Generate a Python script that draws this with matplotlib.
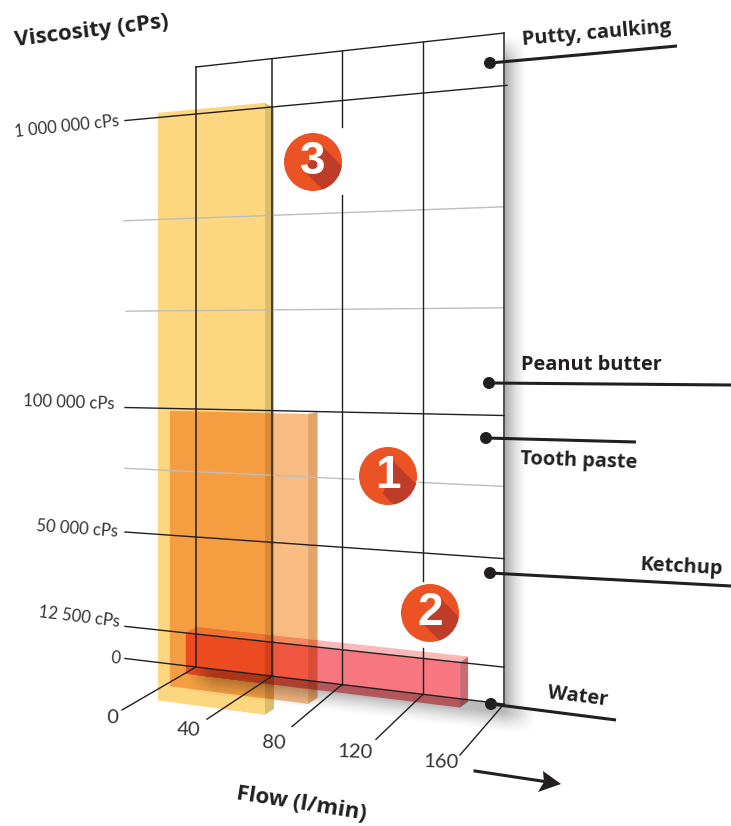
import matplotlib
matplotlib.use("Agg")
import matplotlib.pyplot as plt
from matplotlib.colors import to_rgb
from matplotlib.patches import Circle, Polygon
import numpy as np

# values
flow_ticks = [0, 40, 80, 120, 160]
visc_ticks = [0, 12500, 50000, 100000, 1000000]
visc_tick_labels = ['0', '12 500 cPs', '50 000 cPs', '100 000 cPs', '1 000 000 cPs']
visc_minor = [75000, 250000, 500000]

bar_flow_from = [-20, -13.7, -5.3]
bar_flow_to = [36.3, 60.6, 138.3]
bar_visc_top = [1050000, 99000, 12500]

materials = ['Putty, caulking', 'Peanut butter', 'Tooth paste', 'Ketchup', 'Water']
badge_numbers = ['3', '1', '2']

# scales of the drawing: flow -> pixel column, viscosity -> pixel row on the wall's left edge
FLOW_CAL = [-40, 0, 40, 80, 120, 160]
COL_CAL = [120, 196, 272, 342, 423, 504]
VISC_CAL = [0, 12500, 50000, 75000, 100000, 250000, 500000, 1000000, 1500000]
ROW_CAL = [667, 634, 537, 471.5, 409, 310, 217, 114, 67]
VAN_X, VAN_Y = -2407, 354  # vanishing point of the wall
DARK = '#231F20'
GRID_LEFT = 125
LABEL_FONT = 'Open Sans'


def col(flow):
    return np.interp(flow, FLOW_CAL, COL_CAL)


def row(visc):
    return np.interp(visc, VISC_CAL, ROW_CAL)


def y_at(ref_row, x):
    return VAN_Y + (ref_row - VAN_Y) * (x - VAN_X) / (196 - VAN_X)


def clip_poly(poly, clipper):
    # Sutherland-Hodgman, both convex, same winding not assumed
    area = sum(clipper[i][0] * clipper[(i + 1) % len(clipper)][1]
               - clipper[(i + 1) % len(clipper)][0] * clipper[i][1] for i in range(len(clipper)))
    sign = 1 if area > 0 else -1
    out = list(poly)
    for i in range(len(clipper)):
        a, b = clipper[i], clipper[(i + 1) % len(clipper)]
        side = lambda p: sign * ((b[0] - a[0]) * (p[1] - a[1]) - (b[1] - a[1]) * (p[0] - a[0]))
        cur, out = out, []
        for j in range(len(cur)):
            p, q = cur[j], cur[(j + 1) % len(cur)]
            sp, sq = side(p), side(q)
            if sp >= 0:
                out.append(p)
            if sp * sq < 0:
                t = sp / (sp - sq)
                out.append((p[0] + t * (q[0] - p[0]), p[1] + t * (q[1] - p[1])))
        if not out:
            return []
    return out


fig = plt.figure(figsize=(7.31, 8.26), dpi=100)
ax = fig.add_axes([0, 0, 1, 1])
ax.set_xlim(0, 731)
ax.set_ylim(826, 0)
ax.axis('off')

# bars: the three overlap in multiply mode, so every overlap is painted with its product colour
bar_foot = [705.5, 689.5, 675]
bar_side_dx = [9, 9.5, 8]
bar_side_top_dy = [5, -2, -6]
bar_colors = [('#FCD77F', '#DCBD6E'), ('#F8BB82', '#E3A36B'), ('#F67780', '#C96B72')]
bar_top_color = '#FAB8B8'

regions = []
for i in range(3):
    x0, x1 = col(bar_flow_from[i]), col(bar_flow_to[i])
    top = row(bar_visc_top[i])
    dx = bar_side_dx[i]
    y0t, y1t = y_at(top, x0), y_at(top, x1)
    y0b, y1b = y_at(bar_foot[i], x0), y_at(bar_foot[i], x1)
    front = [(x0, y0t), (x1, y1t), (x1, y1b), (x0, y0b)]
    side = [(x1, y1t), (x1 + dx, y1t + bar_side_top_dy[i]), (x1 + dx, y1b - 6), (x1, y1b)]
    faces = [(front, bar_colors[i][0]), (side, bar_colors[i][1])]
    if i == 2:
        faces.append(([(x0, y0t), (x0 + 10, y0t - 6), (x1 + dx, y1t - 6), (x1, y1t)], bar_top_color))
    for poly, color in faces:
        color = np.array(to_rgb(color))
        ax.add_patch(Polygon(poly, fc=color, ec='none', zorder=2))
        new_regions = [(poly, color)]
        for other, other_color in regions:
            part = clip_poly(poly, other)
            if len(part) > 2:
                mixed = color * other_color
                ax.add_patch(Polygon(part, fc=mixed, ec='none', zorder=2))
                new_regions.append((part, mixed))
        regions += new_regions

# soft shadows of the wall
yy, xx = np.mgrid[0:826, 0:731] + 0.5
right = np.clip(1 - (xx - 505) / 24, 0, 1) ** 1.6 * (xx >= 505) * np.clip((yy - 36) / 25, 0, 1)
right *= np.clip((722 - yy) / 16, 0, 1)
d = yy - y_at(667, xx)
floor = np.clip((29 - d) / 20, 0, 1) ** 1.4 * (d >= 0)
floor *= np.clip((xx - 188) / 25, 0, 1) * np.clip((535 - xx) / 30, 0, 1)
alpha = np.maximum(right * 0.33, floor * 0.27)
rgba = np.zeros(xx.shape + (4,))
rgba[..., 3] = alpha
ax.imshow(rgba, extent=(0, 731, 826, 0), zorder=3, aspect='auto', interpolation='bilinear')
ax.set_xlim(0, 731)
ax.set_ylim(826, 0)

# grid on the wall; the grey lines tilt a little less than the wall's perspective
minor_left = [125, 126, 124]
minor_tilt = [1, 3, 6]
for v, left, tilt in zip(visc_minor, minor_left, minor_tilt):
    r = row(v)
    spans = [(left, 354), (419, 503)] if v == 75000 else [(left, 503)]
    for a, b in spans:
        ya = y_at(r, a) + tilt * (a - 124) / 379
        yb = y_at(r, b) + tilt * (b - 124) / 379
        ax.plot([a, b], [ya, yb], color='#BDBDBD', lw=1.0, zorder=4)

for v in visc_ticks:
    r = row(v)
    end = 507 if v == 1000000 else 504
    ax.plot([GRID_LEFT, end], [y_at(r, GRID_LEFT), y_at(r, end)], color=DARK, lw=1.0, zorder=5)
top_row = row(1500000)
ax.plot([196, 504], [y_at(top_row, 196), y_at(top_row, 504)], color=DARK, lw=1.0, zorder=5)

col_gaps = {80: (127, 195), 120: (581, 648)}
for f in flow_ticks:
    x = col(f)
    y_top, y_bot = y_at(top_row, x), y_at(row(0), x)
    if f in col_gaps:
        ax.plot([x, x], [y_top, col_gaps[f][0]], color=DARK, lw=1.0, zorder=5)
        ax.plot([x, x], [col_gaps[f][1], y_bot], color=DARK, lw=1.0, zorder=5)
    else:
        ax.plot([x, x], [y_top, y_bot], color=DARK, lw=1.1, zorder=5)

# floor ticks and their labels
tick_dx = [-74, -65, -50, -47, -44]
tick_dy = [43, 43, 42, 45, 51]
tick_label_xy = [(112, 718), (189, 730), (274, 743), (355, 752), (441, 762)]
for f, dx, dy, xy in zip(flow_ticks, tick_dx, tick_dy, tick_label_xy):
    x, y = col(f), y_at(row(0), col(f))
    ax.plot([x, x + dx], [y, y + dy], color=DARK, lw=1.0, zorder=5)
    ax.text(xy[0], xy[1], str(f), family='Lato', fontsize=14.5, color='#333333',
            ha='center', va='center', rotation=-2, zorder=7)

visc_label_xy = [(116, 658), (79, 617), (77, 529), (69, 403), (67, 127)]
visc_label_rot = [-4, -7, -4, -2, 6]
for lab, xy, rot in zip(visc_tick_labels, visc_label_xy, visc_label_rot):
    ax.text(xy[0], xy[1], lab, family='Lato', fontsize=12, color='#333333',
            ha='center', va='center', rotation=rot, rotation_mode='anchor', zorder=7)

# material callouts
dots = [(490, 63), (489, 383), (486, 438), (490, 573), (491, 704)]
ends = [(677, 46), (731, 385), (636, 442), (731, 586), (616, 720)]
text_xy = [(597, 34), (591, 365), (579, 461), (681, 567), (578, 697)]
text_rot = [5, 0, -2, -3, -7]
for name, dot, end, xy, rot in zip(materials, dots, ends, text_xy, text_rot):
    ax.plot([dot[0], end[0]], [dot[1], end[1]], color=DARK, lw=2.2, zorder=6, solid_capstyle='butt')
    ax.add_patch(Circle(dot, 6, fc=DARK, ec='none', zorder=6))
    ax.text(xy[0], xy[1], name, family=LABEL_FONT, fontweight='bold', fontsize=14.4, color=DARK,
            ha='center', va='center', rotation=rot, rotation_mode='anchor', zorder=7)

# numbered badges with their long shadow
badge_xy = [(313, 162), (388, 476), (430, 613)]
badge_half = [10, 5, 10]
badge_low = [8, 18, 8]
for num, (cx, cy), w, low in zip(badge_numbers, badge_xy, badge_half, badge_low):
    disc = Circle((cx, cy), 29, fc='#EB5224', ec='none', zorder=6)
    ax.add_patch(disc)
    shade = Polygon([(cx + w, cy - 15), (cx + w + 40, cy + 25), (cx - w + 40, cy + low + 40), (cx - w, cy + low)],
                    fc='#BE3C28', ec='none', zorder=6)
    ax.add_patch(shade)
    shade.set_clip_path(disc)
    ax.text(cx, cy, num, family='Liberation Sans', fontweight='bold', fontsize=33, color='white',
            ha='center', va='center', zorder=7)

# axis titles and arrow
ax.text(92, 31, 'Viscosity (cPs)', family=LABEL_FONT, fontweight='bold', fontsize=16, color=DARK,
        ha='center', va='center', rotation=7, rotation_mode='anchor', zorder=7)
ax.text(301, 804, 'Flow (l/min)', family=LABEL_FONT, fontweight='bold', fontsize=16, color=DARK,
        ha='center', va='center', rotation=-9, rotation_mode='anchor', zorder=7)
ax.plot([475, 548], [771, 782], color=DARK, lw=2.2, zorder=6)
ax.add_patch(Polygon([(561, 784), (538, 792), (544, 782), (543, 771)], fc=DARK, ec='none', zorder=6))

fig.savefig('out.png', dpi=100)
plt.close(fig)
